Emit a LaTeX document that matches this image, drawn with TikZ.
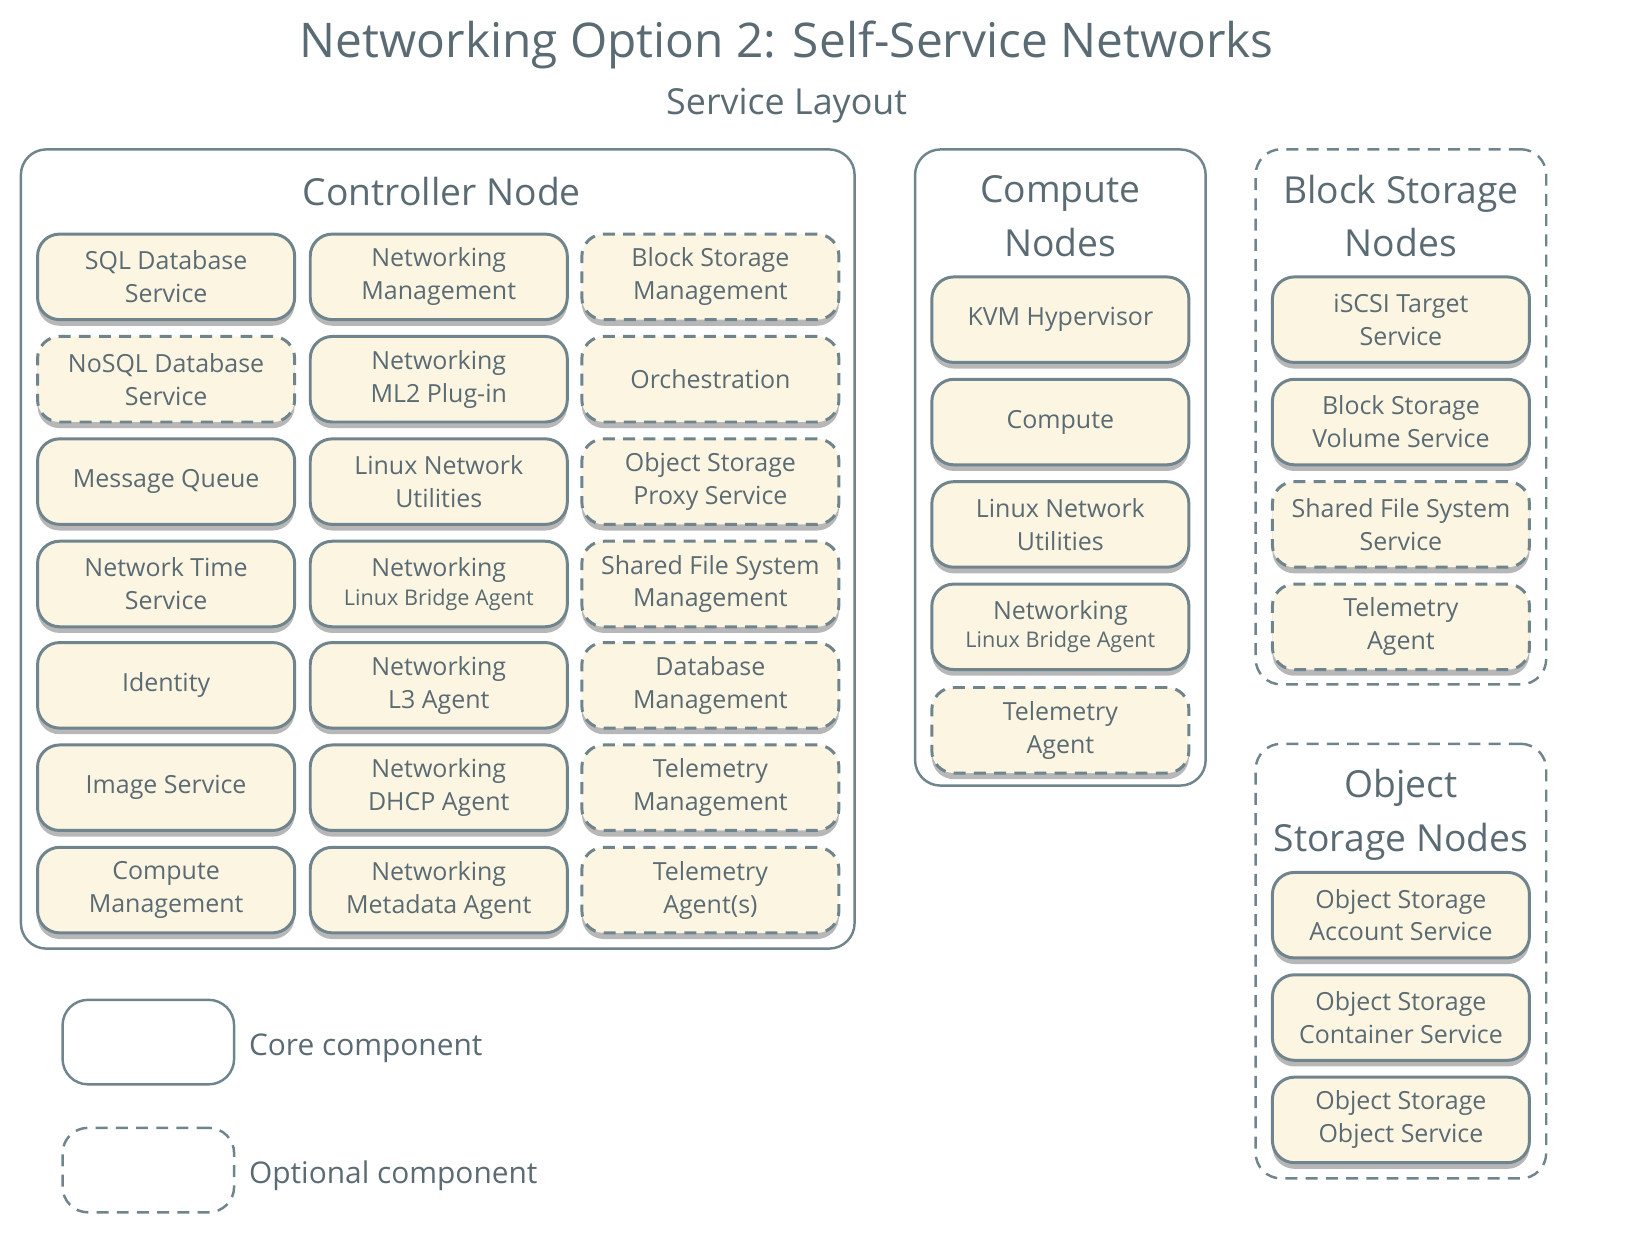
\documentclass[tikz,border=0pt]{standalone}
\usepackage{fontspec}
\setmainfont{Open Sans}
\usepackage{tikz}
\usetikzlibrary{shapes,positioning,calc,shadows}
\usepackage{xcolor}
\definecolor{linegray}{HTML}{6F848C}
\definecolor{textgray}{HTML}{5A6B73}
\definecolor{cream}{HTML}{FCF5E2}
\newcommand{\smalltextfont}{\fontsize{12.3}{14}\selectfont}

\begin{document}
\begin{tikzpicture}[x=0.02089cm, y=-0.02089cm,
    corebox/.style={rectangle, rounded corners=12.5pt, draw=linegray, line width=1.7pt,
        fill=cream, text=textgray, align=center, minimum width=5.14cm, minimum height=1.71cm,
        font=\fontsize{14.2}{18.7}\selectfont,
        drop shadow={shadow xshift=0pt, shadow yshift=-3.5pt, opacity=0.4, fill=black!70}},
    optbox/.style={corebox, dash pattern=on 6.8pt off 4.7pt},
    nodegroup/.style={rectangle, rounded corners=14.5pt, draw=linegray, line width=1.4pt},
    optgroup/.style={nodegroup, dash pattern=on 6.8pt off 4.7pt},
    grouptitle/.style={text=textgray, align=center, font=\fontsize{21.2}{30.4}\selectfont},
    keylabel/.style={text=textgray, font=\fontsize{17}{20}\selectfont, yshift=-3.5pt}]
    \useasboundingbox (0,0) rectangle (1566,1199);

    \node[text=textgray, font=\fontsize{27.2}{34}\selectfont] (title) at (753, 43) {Networking Option 2: Self-Service Networks};
    \node[text=textgray, font=\fontsize{20.4}{24}\selectfont] (subtitle) at (753, 101) {Service Layout};

    % Controller Node
    \node[nodegroup, minimum width=16.67cm, minimum height=15.98cm] (ctrl) at (419, 525.5) {};
    \node[grouptitle] (ctrltitle) at (423, 183) {Controller Node};
    \node[corebox] (sql) at (159, 265) {SQL Database\\Service};
    \node[optbox] (nosql) at (159, 363) {NoSQL Database\\Service};
    \node[corebox] (mq) at (159, 461) {Message Queue};
    \node[corebox] (ntp) at (159, 559) {Network Time\\Service};
    \node[corebox] (ident) at (159, 656) {Identity};
    \node[corebox] (image) at (159, 754) {Image Service};
    \node[corebox] (compmgmt) at (159, 852) {Compute\\Management};

    \node[corebox] (netmgmt) at (420, 265) {Networking\\Management};
    \node[corebox] (ml2) at (420, 363) {Networking\\ML2 Plug-in};
    \node[corebox] (linuxnet) at (420, 461) {Linux Network\\Utilities};
    \node[corebox] (lbagent) at (420, 559) {Networking\\[-2.5pt]{\smalltextfont Linux Bridge Agent}};
    \node[corebox] (l3agent) at (420, 656) {Networking\\L3 Agent};
    \node[corebox] (dhcp) at (420, 754) {Networking\\DHCP Agent};
    \node[corebox] (meta) at (420, 852) {Networking\\Metadata Agent};

    \node[optbox] (blockmgmt) at (680, 265) {Block Storage\\Management};
    \node[optbox] (orch) at (680, 363) {Orchestration};
    \node[optbox] (proxy) at (680, 461) {Object Storage\\Proxy Service};
    \node[optbox] (sharedmgmt) at (680, 559) {Shared File System\\Management};
    \node[optbox] (dbmgmt) at (680, 656) {Database\\Management};
    \node[optbox] (telmgmt) at (680, 754) {Telemetry\\Management};
    \node[optbox] (telagents) at (680, 852) {Telemetry\\Agent(s)};

    % Compute Nodes
    \node[nodegroup, minimum width=5.81cm, minimum height=12.72cm] (comp) at (1015, 447.5) {};
    \node[grouptitle] (comptitle) at (1015, 207) {Compute\\Nodes};
    \node[corebox] (kvm) at (1015, 306) {KVM Hypervisor};
    \node[corebox] (compute) at (1015, 404) {Compute};
    \node[corebox] (clinuxnet) at (1015, 502) {Linux Network\\Utilities};
    \node[corebox] (clbagent) at (1015, 600) {Networking\\[-2.5pt]{\smalltextfont Linux Bridge Agent}};
    \node[optbox] (ctelagent) at (1015, 699) {Telemetry\\Agent};

    % Block Storage Nodes
    \node[optgroup, minimum width=5.81cm, minimum height=10.70cm] (block) at (1341, 399) {};
    \node[grouptitle] (blocktitle) at (1341, 207) {Block Storage\\Nodes};
    \node[corebox] (iscsi) at (1341, 306) {iSCSI Target\\Service};
    \node[corebox] (volume) at (1341, 404) {Block Storage\\Volume Service};
    \node[optbox] (shared) at (1341, 502) {Shared File System\\Service};
    \node[optbox] (btelagent) at (1341, 600) {Telemetry\\Agent};

    % Object Storage Nodes
    \node[optgroup, minimum width=5.81cm, minimum height=8.69cm] (object) at (1341, 920) {};
    \node[grouptitle] (objecttitle) at (1341, 780) {Object\\Storage Nodes};
    \node[corebox] (account) at (1341, 876) {Object Storage\\Account Service};
    \node[corebox] (container) at (1341, 974) {Object Storage\\Container Service};
    \node[corebox] (objsvc) at (1341, 1072) {Object Storage\\Object Service};

    % Legend
    \node[nodegroup, minimum width=3.43cm, minimum height=1.69cm] (corekey) at (142, 997.5) {};
    \node[keylabel, right=0.15cm of corekey.east] (corelabel) {Core component};
    \node[optgroup, minimum width=3.43cm, minimum height=1.69cm] (optkey) at (142, 1120) {};
    \node[keylabel, right=0.15cm of optkey.east] (optlabel) {Optional component};
\end{tikzpicture}
\end{document}
